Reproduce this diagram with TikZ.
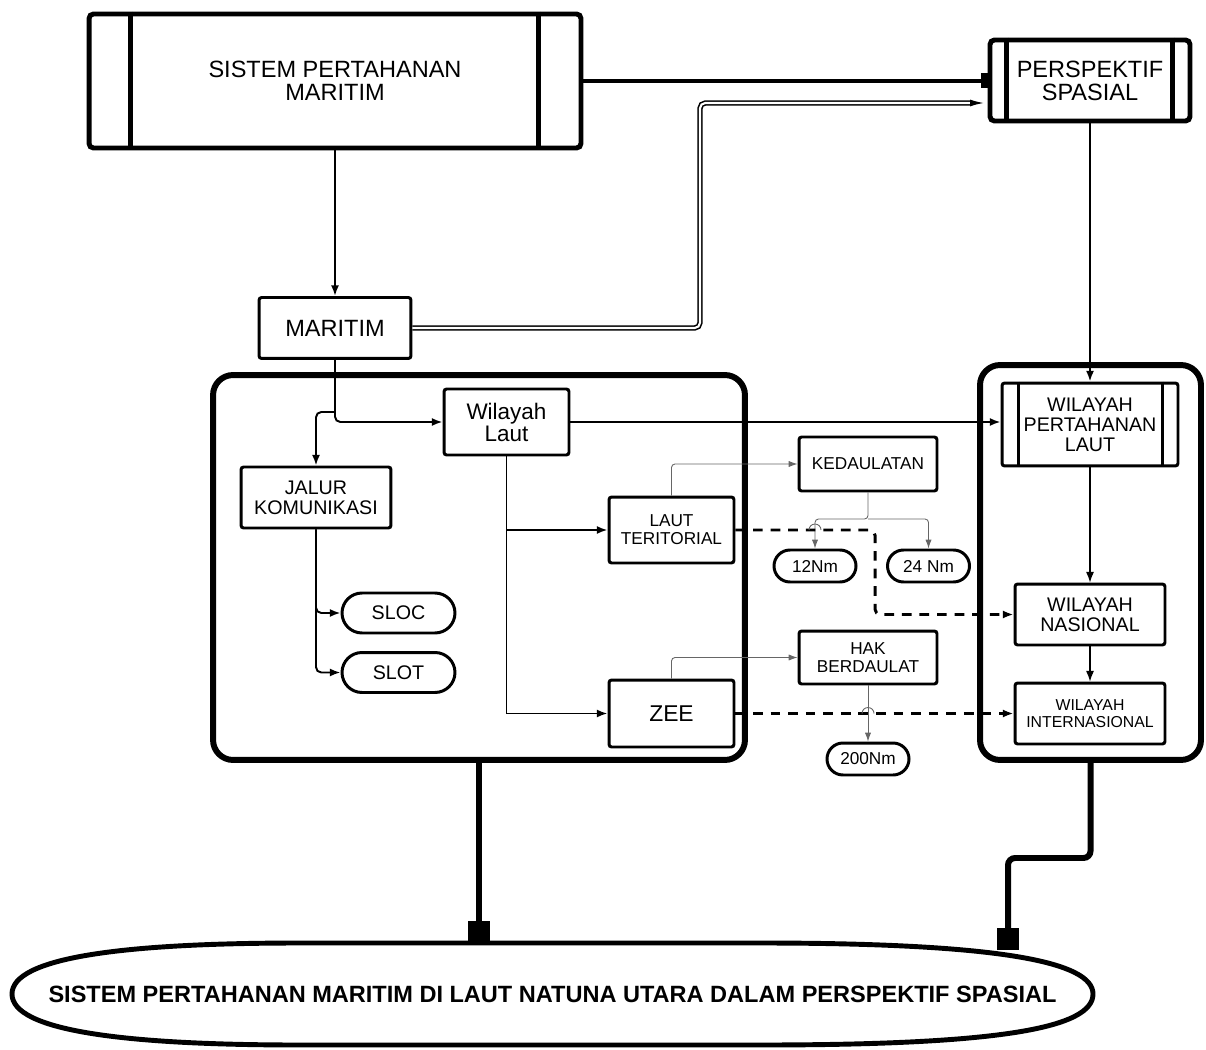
\documentclass[tikz,border=0pt]{standalone}
\usepackage{fontspec}
\setmainfont{Liberation Sans}
\usetikzlibrary{arrows.meta,positioning,shapes.misc}

\begin{document}
\begin{tikzpicture}[
    x=0.02cm, y=-0.02cm,
    box/.style={rectangle, draw, line width=1.7pt, rounded corners=1.5pt, align=center, inner sep=0pt},
    barbox/.style={box, line width=2.8pt, rounded corners=2.5pt},
    pill/.style={rounded rectangle, draw, line width=1.7pt, align=center, inner sep=0pt, minimum width=1.64cm, minimum height=0.64cm},
    zone/.style={rectangle, draw, line width=3.4pt, rounded corners=0.4cm},
    arrow/.style={-{Latex[length=6pt,width=4.5pt]}, line width=1.1pt},
    thinarrow/.style={-{Latex[length=5pt,width=3.5pt]}, line width=0.5pt, black!60},
    dasharrow/.style={-{Latex[length=6pt,width=4.5pt]}, line width=1.7pt, dash pattern=on 5.5pt off 4.5pt},
    heavy/.style={line width=3.4pt, -{Square[length=0.44cm,width=0.44cm]}},
    bigfont/.style={font=\fontsize{13.4}{13.2}\selectfont},
    laufont/.style={font=\fontsize{12.8}{12.5}\selectfont},
    midfont/.style={font=\fontsize{11.2}{11.4}\selectfont},
    smallfont/.style={font=\fontsize{9.8}{10.2}\selectfont},
    tinyfont/.style={font=\fontsize{9}{9.7}\selectfont},
    goalfont/.style={font=\fontsize{13.4}{14}\selectfont\bfseries}
]
    \useasboundingbox (0,0) rectangle (1206,1050);

    % Containers
    \node[zone, minimum width=10.64cm, minimum height=7.7cm] (lbox) at (479,567.5) {};
    \node[zone, minimum width=4.42cm, minimum height=7.9cm] (rbox) at (1090.5,562.5) {};

    % Sistem pertahanan maritim
    \node[barbox, minimum width=9.84cm, minimum height=2.68cm, bigfont] (spm) at (335,81) {SISTEM PERTAHANAN\\MARITIM};
    \draw[line width=2.8pt] ([xshift=0.88cm]spm.north west) -- ([xshift=0.88cm]spm.south west);
    \draw[line width=2.8pt] ([xshift=-0.9cm]spm.north east) -- ([xshift=-0.9cm]spm.south east);

    % Perspektif spasial
    \node[barbox, minimum width=4cm, minimum height=1.62cm, bigfont] (ps) at (1090,80.5) {PERSPEKTIF\\SPASIAL};
    \draw[line width=2.8pt] ([xshift=0.38cm]ps.north west) -- ([xshift=0.38cm]ps.south west);
    \draw[line width=2.8pt] ([xshift=-0.4cm]ps.north east) -- ([xshift=-0.4cm]ps.south east);

    % Maritim
    \node[box, minimum width=3.04cm, minimum height=1.22cm, bigfont] (maritim) at (335,328) {MARITIM};

    % Wilayah laut
    \node[box, minimum width=2.5cm, minimum height=1.32cm, laufont] (wlaut) at (506.5,422) {Wilayah\\Laut};

    % Jalur komunikasi
    \node[box, minimum width=3cm, minimum height=1.22cm, midfont] (jalur) at (316,497.5) {JALUR\\KOMUNIKASI};
    \node[pill, minimum width=2.26cm, minimum height=0.8cm, midfont] (sloc) at (398.5,613) {SLOC};
    \node[pill, minimum width=2.26cm, minimum height=0.8cm, midfont] (slot) at (398.5,672.5) {SLOT};

    % Laut teritorial and ZEE
    \node[box, minimum width=2.5cm, minimum height=1.32cm, smallfont] (lt) at (671.5,530) {LAUT\\TERITORIAL};
    \node[box, minimum width=2.5cm, minimum height=1.34cm, font=\fontsize{13}{13}\selectfont] (zee) at (671.5,713.5) {ZEE};

    % Kedaulatan
    \node[box, minimum width=2.76cm, minimum height=1.08cm, smallfont] (kd) at (868,464) {KEDAULATAN};
    \node[pill, smallfont] (n12) at (815,566) {12Nm};
    \node[pill, smallfont] (n24) at (928.5,566) {24 Nm};

    % Hak berdaulat
    \node[box, minimum width=2.76cm, minimum height=1.06cm, smallfont] (hak) at (868,657.5) {HAK\\BERDAULAT};
    \node[pill, smallfont] (n200) at (868,759) {200Nm};

    % Wilayah pertahanan laut
    \node[box, minimum width=3.52cm, minimum height=1.66cm, midfont] (wpl) at (1090,424.5) {WILAYAH\\PERTAHANAN\\LAUT};
    \draw[line width=1.7pt] ([xshift=0.36cm]wpl.north west) -- ([xshift=0.36cm]wpl.south west);
    \draw[line width=1.7pt] ([xshift=-0.34cm]wpl.north east) -- ([xshift=-0.34cm]wpl.south east);

    % Wilayah nasional / internasional
    \node[box, minimum width=3cm, minimum height=1.22cm, midfont] (wn) at (1090,614.5) {WILAYAH\\NASIONAL};
    \node[box, minimum width=3cm, minimum height=1.22cm, tinyfont] (wi) at (1090,713.5) {WILAYAH\\INTERNASIONAL};

    % Goal
    \node[goalfont, minimum width=21.62cm, minimum height=2.04cm, inner sep=0pt] (goal) at (552.5,994) {SISTEM PERTAHANAN MARITIM DI LAUT NATUNA UTARA DALAM PERSPEKTIF SPASIAL};
    \draw[line width=2.8pt] (12,994) .. controls (12,958) and (120,943) .. (300,943) -- (760,943)
        .. controls (1000,943) and (1093,962) .. (1093,994)
        .. controls (1093,1028) and (1000,1045) .. (760,1045) -- (300,1045)
        .. controls (120,1045) and (12,1030) .. (12,994) -- cycle;

    % Arrows
    \draw[line width=2.8pt, -{Square[length=0.14cm,width=0.3cm]}] (spm.east) -- (spm.east -| ps.west);
    \coordinate (dbl) at (700,103);
    \draw[double, line width=0.9pt, double distance=1.2pt, rounded corners=3pt, -{Latex[length=8pt,width=4pt]}, shorten >=2pt] (maritim.east) -| (dbl) -- (dbl -| ps.west);
    \draw[arrow] (spm.south) -- (maritim.north);
    \draw[arrow, rounded corners=3pt] (maritim.south) |- (wlaut.west);
    \coordinate (br) at (335,412);
    \draw[arrow, rounded corners=3pt] (br) -| (jalur.north);
    \draw[arrow, rounded corners=3pt] (jalur.south) |- (sloc.west);
    \draw[arrow, rounded corners=3pt] (jalur.south) |- (slot.west);
    \draw[arrow] (wlaut.south) |- (lt.west);
    \draw[arrow] (wlaut.south) |- (zee.west);
    \draw[arrow] (wlaut.east) -- (wlaut.east -| wpl.west);
    \draw[thinarrow, rounded corners=2pt] (lt.north) |- (kd.west);
    \coordinate (ksplit) at (868,519);
    \draw[thinarrow, rounded corners=2pt] (kd.south) -- (ksplit) -| (n12.north);
    \draw[thinarrow, rounded corners=2pt] (ksplit) -| (n24.north);
    \draw[thinarrow, rounded corners=2pt] (zee.north) |- (hak.west);
    \draw[thinarrow] (hak.south) -- (n200.north);
    \coordinate (dturn) at (875,530);
    \draw[dasharrow, rounded corners=3pt] (lt.east) -- (dturn) |- (wn.west);
    \draw[dasharrow] (zee.east) -- (wi.west);
    \draw[line width=0.5pt, black!60] (809,530) arc[start angle=180, end angle=0, radius=0.12cm];
    \draw[line width=0.5pt, black!60] (862,713.5) arc[start angle=180, end angle=0, radius=0.12cm];
    \draw[arrow] (ps.south) -- (wpl.north);
    \draw[arrow, line width=0.6pt] (wpl.south) -- (wn.north);
    \draw[arrow, line width=0.6pt] (wn.south) -- (wi.north);
    \draw[heavy] (lbox.south) -- (lbox.south |- goal.north);
    \coordinate (rturn) at (1008,858);
    \coordinate (rend) at (1008,950);
    \draw[heavy, rounded corners=4pt] (rbox.south) |- (rturn) -- (rend);

\end{tikzpicture}
\end{document}
